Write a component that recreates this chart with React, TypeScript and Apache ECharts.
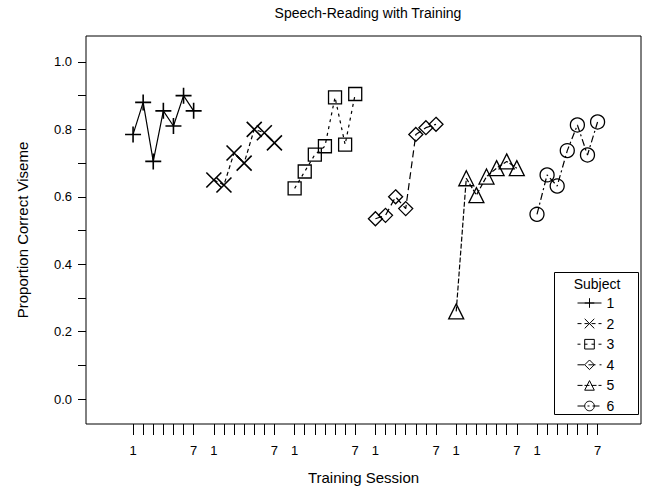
import React, { useEffect, useRef } from "react";
import * as echarts from "echarts";

// Proportion of visemes read correctly, per subject, over seven training sessions
const subjects = ["1", "2", "3", "4", "5", "6"];
const sessions = [1, 2, 3, 4, 5, 6, 7];
const subject1 = [0.785, 0.88, 0.705, 0.855, 0.81, 0.9, 0.855];
const subject2 = [0.65, 0.635, 0.73, 0.7, 0.8, 0.79, 0.76];
const subject3 = [0.625, 0.675, 0.725, 0.75, 0.895, 0.755, 0.905];
const subject4 = [0.535, 0.545, 0.6, 0.565, 0.785, 0.805, 0.815];
const subject5 = [0.26, 0.655, 0.605, 0.66, 0.685, 0.705, 0.685];
const subject6 = [0.548, 0.665, 0.632, 0.737, 0.813, 0.724, 0.822];
const subjectValues = [subject1, subject2, subject3, subject4, subject5, subject6];

// each subject's sessions are laid out in its own block along the x axis
const blockWidth = 8;
const yTicks = [0, 0.1, 0.2, 0.3, 0.4, 0.5, 0.6, 0.7, 0.8, 0.9, 1.0];
const yLabels = [0, 0.2, 0.4, 0.6, 0.8, 1.0];
const sessionLabels = [1, 7];

const FONT = "Liberation Sans, Arial, Helvetica, sans-serif";

const plusPath = "path://M8,0 L8,16 M0,8 L16,8";
const crossPath = "path://M0,0 L16,16 M16,0 L0,16";
const symbols = [plusPath, crossPath, "rect", "diamond", "triangle", "circle"];
const symbolSizes = [16, 15, 13, 14, 15, 14];
const dashes: any[] = ["solid", [4, 3], [3, 4], [7, 4], [5, 2], [7, 3, 2, 3]];

const pos = (subjectIndex: number, session: number) => subjectIndex * blockWidth + session;

export default function App() {
  const ref = useRef<HTMLDivElement>(null);

  useEffect(() => {
    if (!ref.current) return;
    const chart = echarts.init(ref.current, undefined, { renderer: "svg" });

    const xTickValues: number[] = [];
    const xLabelValues: number[] = [];
    subjects.forEach((_, i) => {
      sessions.forEach((s) => xTickValues.push(pos(i, s)));
      sessionLabels.forEach((s) => xLabelValues.push(pos(i, s)));
    });

    const series = subjects.map((name, i) => ({
      name,
      type: "line",
      data: sessions.map((s, k) => [pos(i, s), subjectValues[i][k]]),
      symbol: symbols[i],
      symbolSize: symbolSizes[i],
      showAllSymbol: true,
      lineStyle: { color: "#000", width: 1.2, type: dashes[i] },
      itemStyle: { color: "rgba(0,0,0,0)", borderColor: "#000", borderWidth: i < 2 ? 1.6 : 1.3 },
      emphasis: { disabled: true },
      z: 3,
    }));

    chart.setOption({
      animation: false,
      backgroundColor: "#fff",
      textStyle: { fontFamily: FONT, color: "#000" },
      title: {
        text: "Speech-Reading with Training",
        left: 363,
        textAlign: "center",
        top: 1,
        textStyle: { fontFamily: FONT, fontSize: 14, fontWeight: "normal", color: "#000" },
      },
      grid: {
        left: 86,
        top: 36,
        right: 6,
        bottom: 63,
        show: true,
        borderColor: "#000",
        borderWidth: 1,
        backgroundColor: "rgba(0,0,0,0)",
      },
      xAxis: {
        type: "value",
        min: -3.66,
        max: 51.3,
        name: "Training Session",
        nameLocation: "middle",
        nameGap: 46,
        nameTextStyle: { fontFamily: FONT, fontSize: 15, color: "#000" },
        axisLine: { show: false, onZero: false },
        splitLine: { show: false },
        axisTick: {
          show: true,
          inside: false,
          length: 11,
          lineStyle: { color: "#000", width: 1 },
          customValues: xTickValues,
        },
        axisLabel: {
          customValues: xLabelValues,
          margin: 20,
          fontSize: 13,
          fontFamily: FONT,
          color: "#000",
          formatter: (v: number) => String(((Math.round(v) - 1) % blockWidth) + 1),
        },
      },
      yAxis: {
        type: "value",
        min: -0.074,
        max: 1.077,
        name: "Proportion Correct Viseme",
        nameLocation: "middle",
        nameGap: 56,
        nameTextStyle: { fontFamily: FONT, fontSize: 15, color: "#000" },
        axisLine: { show: false, onZero: false },
        splitLine: { show: false },
        axisTick: {
          show: true,
          inside: false,
          length: 8,
          lineStyle: { color: "#000", width: 1 },
          customValues: yTicks,
        },
        axisLabel: {
          customValues: yLabels,
          margin: 14,
          fontSize: 13,
          fontFamily: FONT,
          color: "#000",
          formatter: (v: number) => v.toFixed(1),
        },
      },
      legend: {
        orient: "vertical",
        left: 577,
        top: 296,
        padding: 0,
        itemGap: 6.6,
        itemWidth: 24,
        itemHeight: 12,
        selectedMode: false,
        z: 20,
        itemStyle: { borderWidth: 1 },
        lineStyle: { width: 1 },
        textStyle: { fontFamily: FONT, fontSize: 14, color: "#000", padding: [0, 0, 0, 0] },
        data: subjects,
      },
      graphic: [
        {
          type: "rect",
          shape: { x: 554.5, y: 272.5, width: 84, height: 142 },
          style: { fill: "#fff", stroke: "#000", lineWidth: 1 },
          z: 10,
        },
        {
          type: "text",
          x: 597,
          y: 284,
          style: {
            text: "Subject",
            fontFamily: FONT,
            fontSize: 14,
            fill: "#000",
            align: "center",
            verticalAlign: "middle",
          },
          z: 11,
        },
      ],
      series,
    });

    return () => chart.dispose();
  }, []);

  return (
    <div
      ref={ref}
      style={{ position: "absolute", left: 0, top: 0, width: 647, height: 490 }}
    />
  );
}
